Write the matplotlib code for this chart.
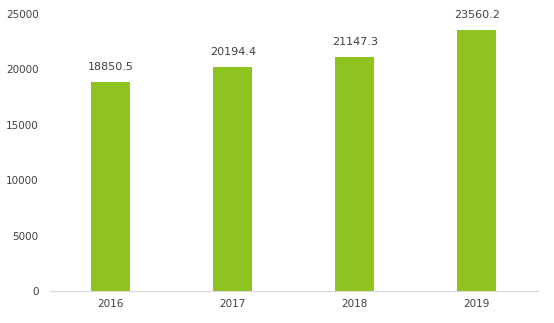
import numpy as np
import matplotlib.pyplot as plt

years = ["2016", "2017", "2018", "2019"]
values = [18850.5, 20194.4, 21147.3, 23560.2]

fig = plt.figure(figsize=(5.54, 3.23), dpi=100)
ax = fig.add_axes([0.090, 0.099, 0.881, 0.858])

x = np.arange(len(years))
bars = ax.bar(x, values, width=0.32, color="#8fc31f")

for b, v in zip(bars, values):
    ax.text(b.get_x() + b.get_width() / 2, v + 900, "{:.1f}".format(v),
            ha="center", va="bottom", fontsize=8, color="#404040")

ax.set_xlim(-0.5, 3.5)
ax.set_ylim(0, 25000)
ax.set_yticks(range(0, 25001, 5000))
ax.set_xticks(x)
ax.set_xticklabels(years)
ax.tick_params(axis="both", length=0, labelsize=7.5, colors="#404040")
ax.tick_params(axis="y", pad=8)
ax.tick_params(axis="x", pad=6)

for s in ["top", "right", "left"]:
    ax.spines[s].set_visible(False)
ax.spines["bottom"].set_color("#d9d9d9")

fig.savefig("out.png", dpi=100)
